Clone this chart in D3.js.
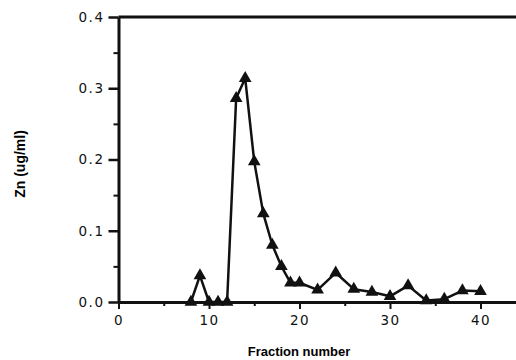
<!DOCTYPE html>
<html>
<head>
<meta charset="utf-8">
<script src="https://cdn.jsdelivr.net/npm/d3@7"></script>
<style>
  body { margin: 0; background: #fff; }
  .tick text { font-family: "DejaVu Sans", sans-serif; font-size: 13.5px; fill: #111; letter-spacing: 1.5px; }
</style>
</head>
<body>
<div id="svg-area"></div>
<script>
// Fraction numbers and zinc concentration (ug/ml)
var fractions = [8, 9, 10, 11, 12, 13, 14, 15, 16, 17, 18, 19, 20, 22, 24, 26, 28, 30, 32, 34, 36, 38, 40];
var zinc = [0.0, 0.037, 0.0, 0.0, 0.0, 0.286, 0.314, 0.197, 0.124, 0.08, 0.05, 0.027, 0.027, 0.017, 0.041, 0.018, 0.014, 0.008, 0.023, 0.002, 0.004, 0.016, 0.015];

var xTicks = [0, 10, 20, 30, 40];
var xMinor = [5, 15, 25, 35];
var yTicks = [0.0, 0.1, 0.2, 0.3, 0.4];
var yMinor = [0.05, 0.15, 0.25, 0.35];

var svgWidth = 516;
var svgHeight = 360;

var svg = d3.select("#svg-area")
  .append("svg")
  .attr("width", svgWidth)
  .attr("height", svgHeight);

// scales
var x = d3.scaleLinear().domain([0, 44]).range([118.5, 516.7]);
var y = d3.scaleLinear().domain([0, 0.4]).range([302, 17]);

// minor ticks first
svg.append("g")
  .attr("transform", `translate(0, ${y(0)})`)
  .call(d3.axisBottom(x).tickValues(xMinor).tickSize(4).tickFormat(""))
  .call(g => g.select(".domain").remove())
  .selectAll("line").attr("stroke", "#111").attr("stroke-width", 2);

svg.append("g")
  .attr("transform", `translate(${x(0)}, 0)`)
  .call(d3.axisLeft(y).tickValues(yMinor).tickSize(5).tickFormat(""))
  .call(g => g.select(".domain").remove())
  .selectAll("line").attr("stroke", "#111").attr("stroke-width", 2);

// bottom axis
var bottom = svg.append("g")
  .attr("transform", `translate(0, ${y(0)})`)
  .call(d3.axisBottom(x).tickValues(xTicks).tickSize(7).tickSizeOuter(0).tickPadding(6));
bottom.select(".domain").attr("stroke", "#111").attr("stroke-width", 3);
bottom.selectAll(".tick line").attr("stroke", "#111").attr("stroke-width", 2);

// left axis
var left = svg.append("g")
  .attr("transform", `translate(${x(0)}, 0)`)
  .call(d3.axisLeft(y).tickValues(yTicks).tickFormat(d3.format(".1f")).tickSize(10).tickSizeOuter(0).tickPadding(4));
left.select(".domain").attr("stroke", "#111").attr("stroke-width", 3);
left.selectAll(".tick line").attr("stroke", "#111").attr("stroke-width", 2.5);

// top frame line
svg.append("line")
  .attr("x1", x(0)).attr("x2", x(44))
  .attr("y1", y(0.4)).attr("y2", y(0.4))
  .attr("stroke", "#111").attr("stroke-width", 3);

// data line
var line = d3.line()
  .x((d, i) => x(fractions[i]))
  .y(d => y(d));

svg.append("path")
  .datum(zinc)
  .attr("d", line)
  .attr("fill", "none")
  .attr("stroke", "#111")
  .attr("stroke-width", 2.5)
  .attr("stroke-linejoin", "round");

// triangle markers
svg.selectAll(".marker")
  .data(zinc)
  .enter()
  .append("path")
  .attr("class", "marker")
  .attr("d", d3.symbol().type(d3.symbolTriangle).size(70))
  .attr("transform", (d, i) => `translate(${x(fractions[i])}, ${y(d)})`)
  .attr("fill", "#111");

// axis titles
svg.append("text")
  .attr("x", 299)
  .attr("y", 356)
  .attr("text-anchor", "middle")
  .style("font-family", "'Liberation Sans', Arial, sans-serif")
  .style("font-weight", "bold")
  .style("font-size", "13px")
  .text("Fraction number");

svg.append("text")
  .attr("transform", "translate(25, 164) rotate(-90)")
  .attr("text-anchor", "middle")
  .style("font-family", "'Liberation Sans', Arial, sans-serif")
  .style("font-weight", "bold")
  .style("font-size", "14px")
  .text("Zn (ug/ml)");
</script>
</body>
</html>
